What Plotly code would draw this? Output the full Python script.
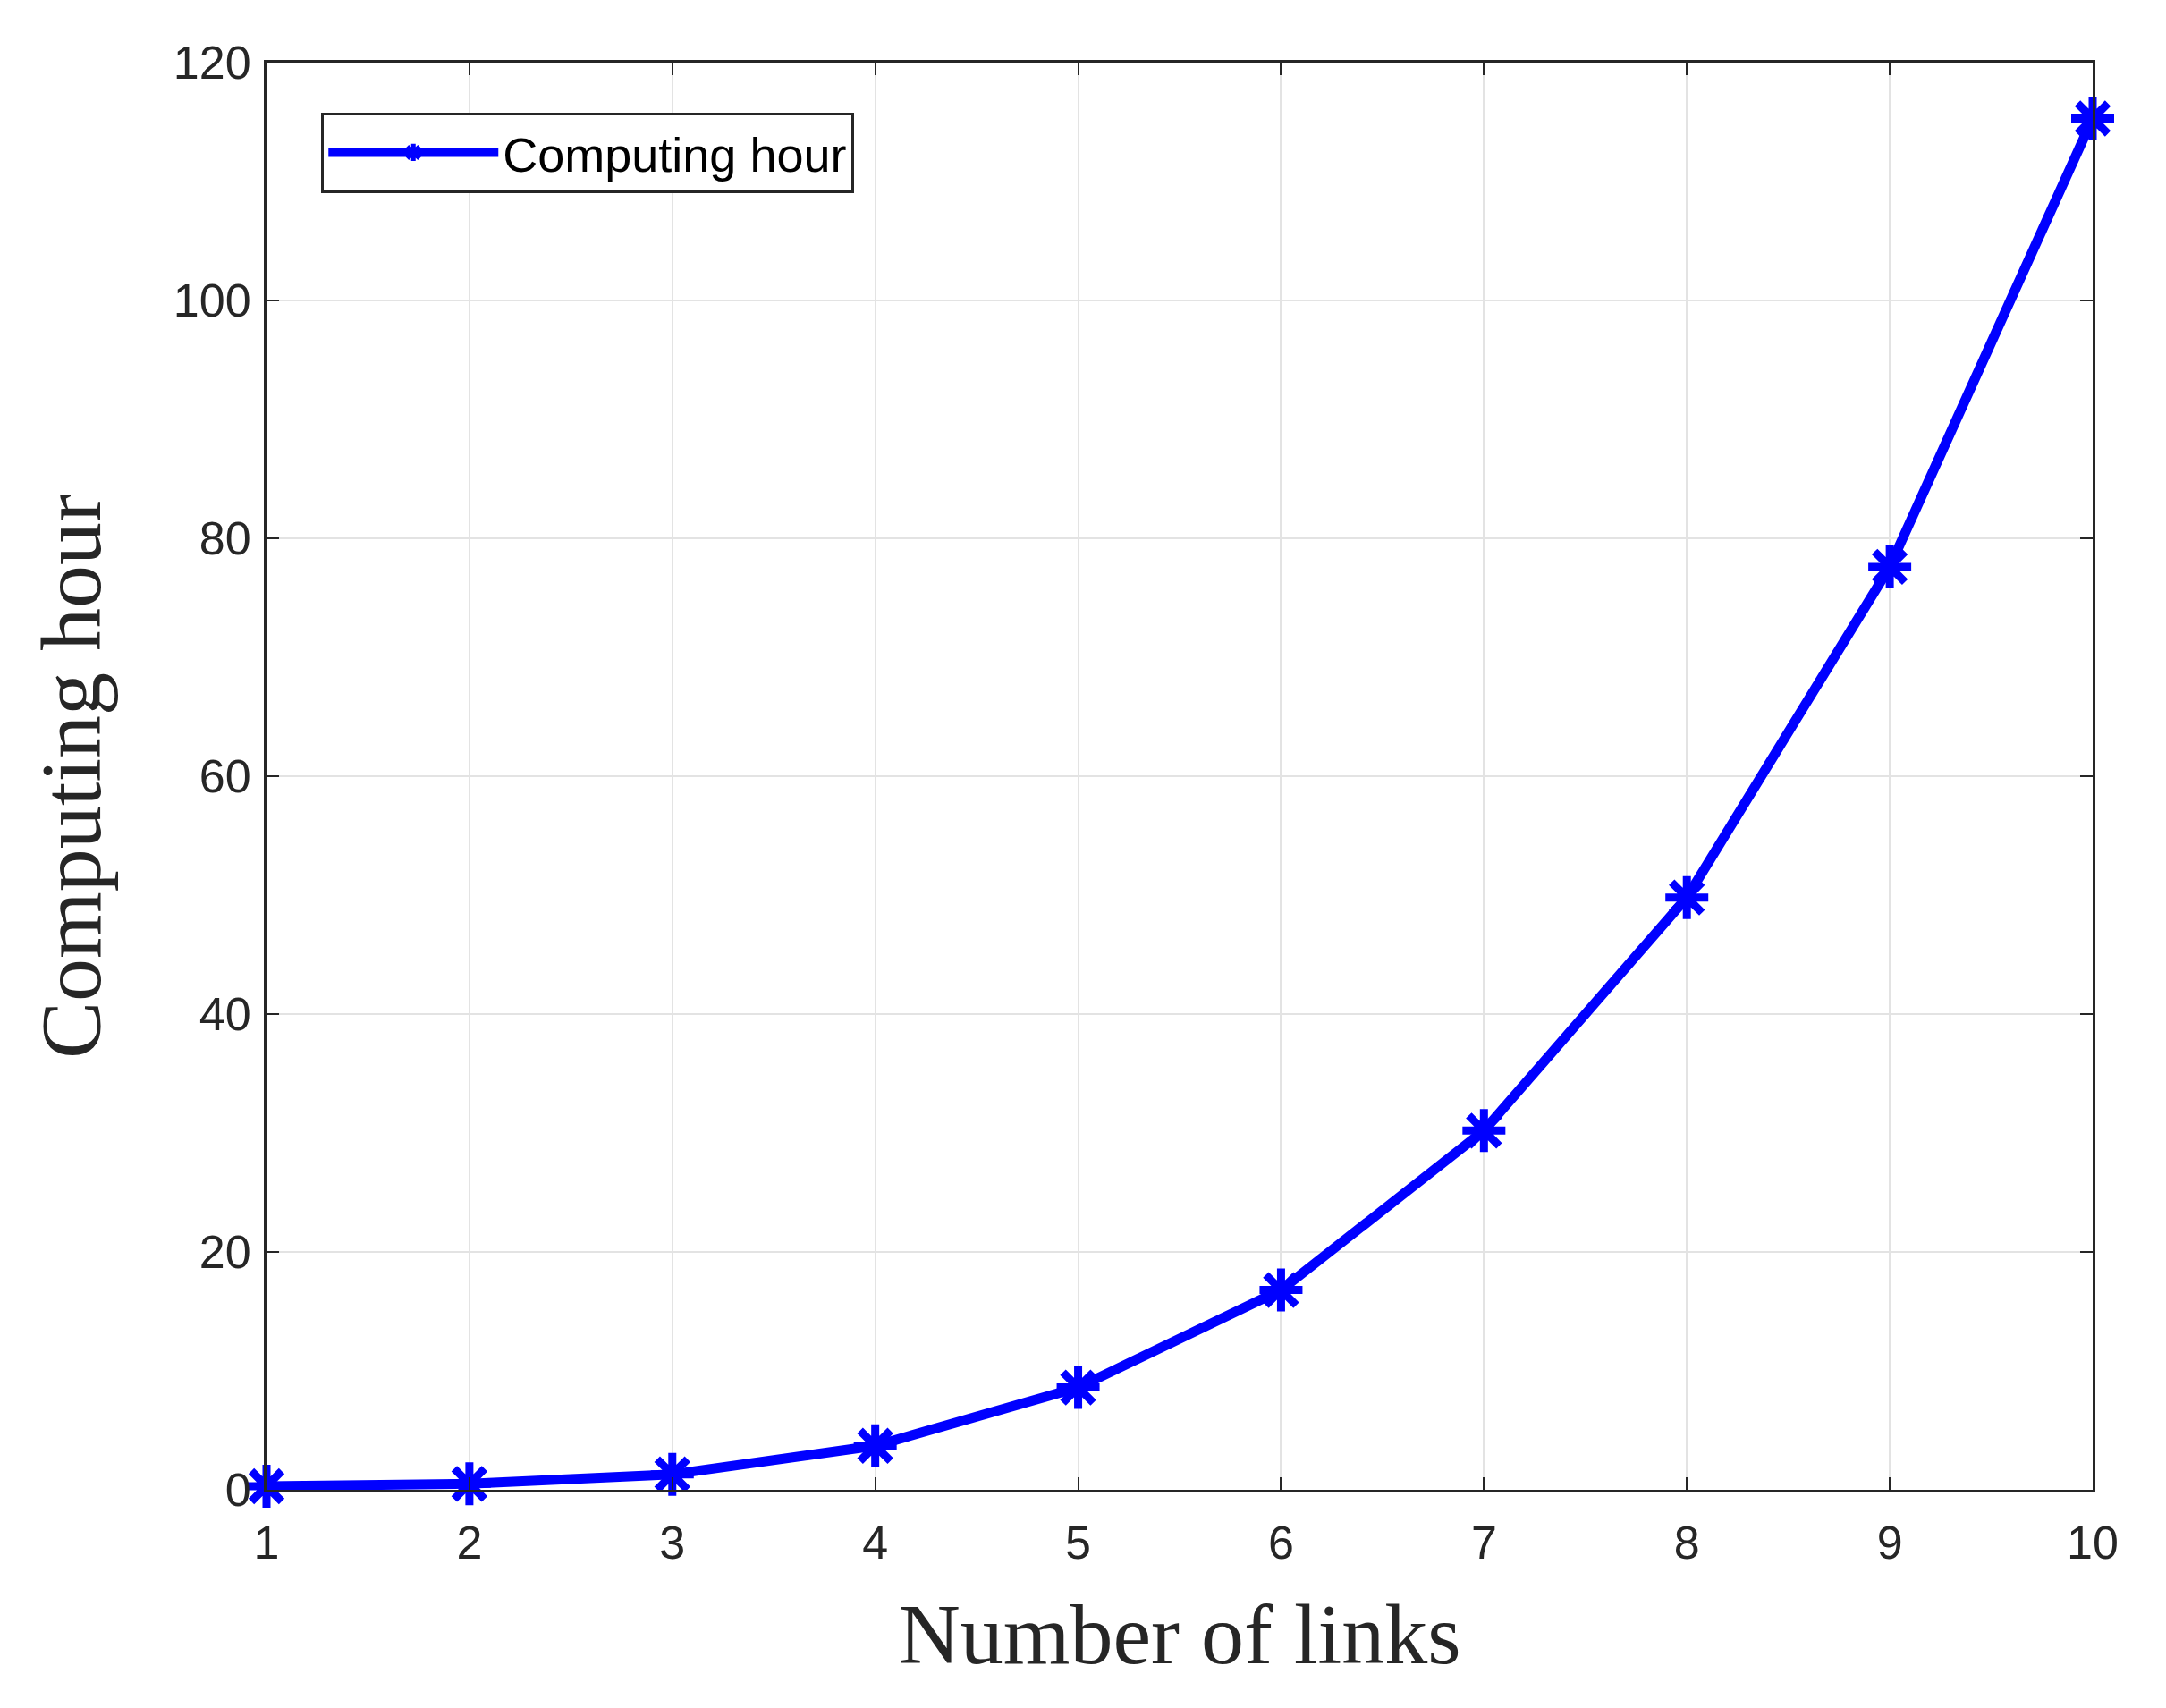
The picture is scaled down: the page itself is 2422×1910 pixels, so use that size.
import plotly.graph_objects as go

links = [1, 2, 3, 4, 5, 6, 7, 8, 9, 10]
hours = [0.3, 0.5, 1.3, 3.7, 8.6, 16.8, 30.2, 49.8, 77.6, 115.3]
xticks = [1, 2, 3, 4, 5, 6, 7, 8, 9, 10]
yticks = [0, 20, 40, 60, 80, 100, 120]

fig = go.Figure(go.Scatter(
    x=links, y=hours, mode="lines+markers", name="Computing hour",
    line=dict(color="#0000ff", width=11),
    marker=dict(symbol="asterisk-open", size=40, color="#0000ff",
                line=dict(color="#0000ff", width=9)),
    cliponaxis=False))

axis_common = dict(showline=True, linecolor="#262626", linewidth=3, mirror="ticks",
                   ticks="inside", ticklen=14, tickwidth=2, tickcolor="#262626",
                   showgrid=True, gridcolor="#e3e3e3", gridwidth=2, zeroline=False,
                   tickfont=dict(family="Liberation Sans", size=52, color="#262626"))
fig.update_xaxes(range=[1, 10], tickvals=xticks, ticklabelstandoff=12,
                 title=dict(text="Number of links", font=dict(family="Liberation Serif", size=96, color="#262626"), standoff=40),
                 **axis_common)
fig.update_yaxes(range=[0, 120], tickvals=yticks, ticklabelstandoff=4,
                 title=dict(text="Computing hour", font=dict(family="Liberation Serif", size=96, color="#262626"), standoff=50),
                 **axis_common)
fig.update_layout(
    width=2422, height=1910, paper_bgcolor="white", plot_bgcolor="white",
    margin=dict(l=290, r=90, t=62, b=252),
    showlegend=True,
    legend=dict(x=0.03, y=0.965, xanchor="left", yanchor="top",
                bgcolor="white", bordercolor="#262626", borderwidth=3,
                font=dict(family="Liberation Sans", size=54, color="#000000"),
                itemwidth=190))
fig.write_html("out.html")
